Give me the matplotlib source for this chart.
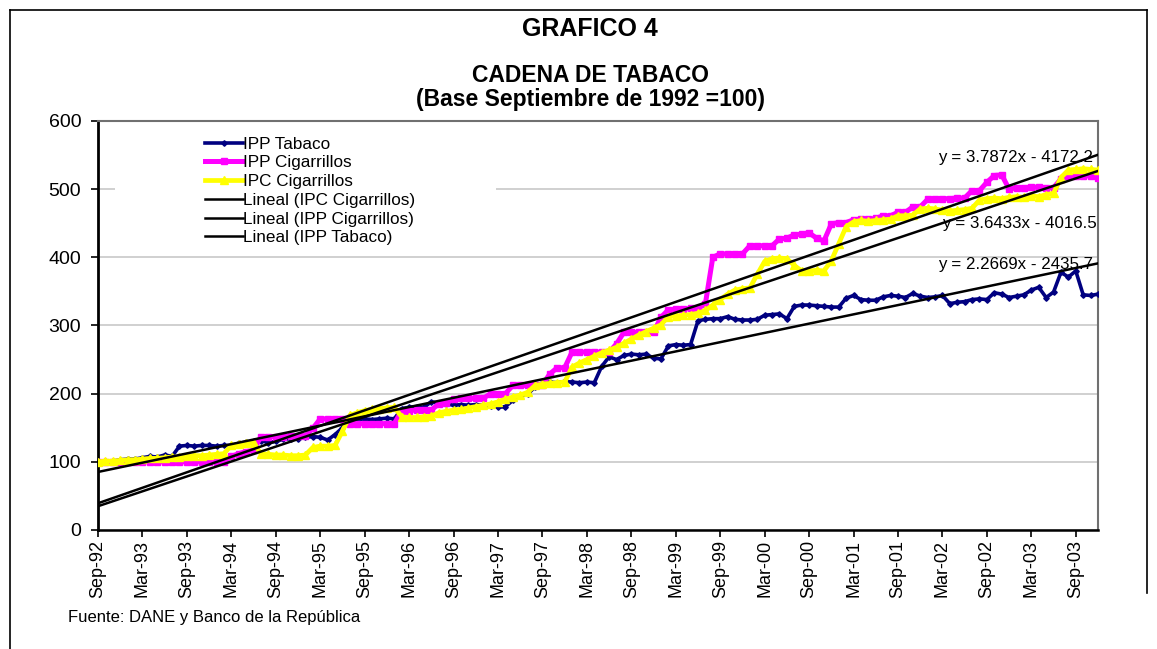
# Grafico 4 - cadena de tabaco, indices base Sep-92 = 100
import numpy as np
import matplotlib.pyplot as plt
from matplotlib.lines import Line2D
from matplotlib.patches import Rectangle

plt.rcParams['font.family'] = ['Liberation Sans', 'DejaVu Sans']

tick_labels = ["Sep-92", "Mar-93", "Sep-93", "Mar-94", "Sep-94", "Mar-95",
               "Sep-95", "Mar-96", "Sep-96", "Mar-97", "Sep-97", "Mar-98",
               "Sep-98", "Mar-99", "Sep-99", "Mar-00", "Sep-00", "Mar-01",
               "Sep-01", "Mar-02", "Sep-02", "Mar-03", "Sep-03"]

# monthly values Sep-92 .. Dec-03
ipp_tabaco = [100, 101, 101, 103, 104, 104, 106, 108, 107, 110, 108,
              123, 124, 123, 124, 124, 123, 124, 124,
              127, 129, 130,
              131, 128, 130, 133, 134, 134, 136,
              137, 136, 132, 140, 150,
              160, 162, 163, 162, 163, 164, 163,
              178, 180, 181, 180, 188, 186,
              185, 183, 184, 183, 184, 183, 182,
              180, 181, 190, 196, 199, 210,
              215, 217, 216, 218, 217, 216, 217, 216,
              240, 254, 250, 256, 258, 257, 258, 252, 251,
              270, 272, 271, 272, 307,
              309, 310, 310, 313, 309, 308, 308, 309, 315, 316, 317, 310,
              328, 330, 330, 329, 328, 327, 327,
              340, 344, 338, 337, 337, 342, 344, 343, 341, 347, 343,
              341, 342, 344, 332, 334, 335, 338, 339, 338, 348, 346,
              341, 343, 345, 352, 356, 341, 349, 378, 371, 380,
              345, 344, 346]

ipp_cigarrillos = [100] * 18 + [
              108, 112, 115, 117,
              137, 137, 137, 137, 138, 138, 138,
              149, 163, 163, 163, 163,
              156, 156, 156, 156, 156, 156, 156,
              175, 175, 176, 176, 176, 185, 186,
              192, 193, 193, 193, 193, 200, 200, 200,
              212, 212, 212, 213, 213, 229, 238, 238,
              261, 261, 261, 261, 261, 261, 273,
              290, 290, 290, 290, 290, 312,
              323, 324, 324, 325, 325, 332, 400,
              405, 405, 405, 405, 417, 417, 417, 417,
              427, 428, 433, 434, 436, 428, 424,
              449, 451, 451, 455, 456, 456, 457,
              461, 461, 466, 466, 474, 474,
              485, 486, 486, 486, 487, 487, 498, 498, 510, 520, 521,
              500, 502, 502, 503, 503, 502, 502,
              515, 520, 520, 520, 519, 517]

ipc_cigarrillos = [100, 101, 101, 102, 103, 103, 104, 105, 105, 106, 107, 107,
              108, 109, 109, 110, 111, 112,
              124, 126, 127, 127,
              112, 111, 110, 110, 109, 109, 110,
              121, 123, 123, 124, 145,
              168, 172, 175, 177, 178, 179, 180,
              166, 165, 165, 166, 167,
              172, 174, 176, 177, 179, 181, 183,
              185, 188, 192, 195, 198, 202,
              212, 214, 215, 216, 217,
              239, 245, 250, 255, 260, 264,
              268, 274, 280, 286, 291, 296, 301,
              313, 314, 315, 316, 318,
              322, 330, 338, 346, 352, 354, 355, 375, 394,
              398, 399, 398, 388, 380, 380, 381, 380,
              395, 420, 445, 452,
              454, 453, 454, 455, 456, 461, 461, 462,
              471, 472, 471, 469, 468, 469, 470, 472,
              484, 486, 487, 486,
              488, 489, 488, 490, 489, 492, 494, 517,
              528, 529, 530, 529, 528]

# excel linear trendlines, x counted in months (Sep-92 -> 1112)
trend_names = ["Lineal (IPC Cigarrillos)", "Lineal (IPP Cigarrillos)",
               "Lineal (IPP Tabaco)"]
trend_slope = [3.7872, 3.6433, 2.2669]
trend_icept = [-4172.2, -4016.5, -2435.7]
trend_x0 = 1112


def main():
    months = np.arange(len(ipp_tabaco))

    fig = plt.figure(figsize=(11.57, 6.49), dpi=100)
    ax = fig.add_axes([0.0847, 0.1834, 0.8643, 0.6302])

    ax.plot(months, ipp_tabaco, color='#000080', lw=2.6, marker='D', ms=2.8,
            label='IPP Tabaco', zorder=3)
    ax.plot(months, ipp_cigarrillos, color='#FF00FF', lw=3.6, marker='s', ms=3.8,
            label='IPP Cigarrillos', zorder=3)
    ax.plot(months, ipc_cigarrillos, color='#FFFF00', lw=3.4, marker='^', ms=5.5,
            label='IPC Cigarrillos', zorder=3)

    for name, a, b in zip(trend_names, trend_slope, trend_icept):
        ax.plot(months, a * (months + trend_x0) + b, color='black', lw=1.8,
                label=name, zorder=4)

    # equation labels
    ax.text(134.3, 547, f"y = {trend_slope[0]}x - {abs(trend_icept[0])}",
            ha='right', va='center', fontsize=12.2, zorder=5)
    ax.text(134.8, 449, f"y = {trend_slope[1]}x - {abs(trend_icept[1])}",
            ha='right', va='center', fontsize=12.2, zorder=5)
    ax.text(134.3, 389, f"y = {trend_slope[2]}x - {abs(trend_icept[2])}",
            ha='right', va='center', fontsize=12.2, zorder=5)

    ax.set_xlim(0, len(months) - 1)
    ax.set_ylim(0, 600)
    ax.set_yticks(np.arange(0, 601, 100))
    ax.set_xticks(np.arange(0, len(months), 6)[:len(tick_labels)])
    ax.set_xticklabels(tick_labels, rotation=90, fontsize=13)
    ax.tick_params(axis='y', labelsize=14, length=5, width=1.2, pad=7)
    ax.tick_params(axis='x', length=5, width=1.2, pad=2)

    ax.set_axisbelow(True)
    ax.grid(axis='y', color='#c8c8c8', lw=1.2)
    ax.spines['left'].set_linewidth(2)
    ax.spines['bottom'].set_linewidth(1.8)
    for s in ['top', 'right']:
        ax.spines[s].set_color('#707070')
        ax.spines[s].set_linewidth(1.5)

    # white legend area (hides the gridline behind it)
    ax.add_patch(Rectangle((0.017, 0.685), 0.381, 0.305, transform=ax.transAxes,
                           facecolor='white', edgecolor='none', zorder=1))
    ax.legend(loc='upper left', bbox_to_anchor=(0.107, 0.962), frameon=False,
              fontsize=12.3, borderaxespad=0, borderpad=0, labelspacing=0.22,
              handlelength=2.2, handletextpad=0.05)

    fig.text(0.51, 0.955, "GRAFICO 4", ha='center', va='center',
             fontsize=18, fontweight='bold')
    fig.text(0.51, 0.884, "CADENA DE TABACO", ha='center', va='center',
             fontsize=16.5, fontweight='bold')
    fig.text(0.51, 0.847, "(Base Septiembre de 1992 =100)", ha='center',
             va='center', fontsize=16.5, fontweight='bold')
    fig.text(0.0588, 0.049, "Fuente: DANE y Banco de la República",
             ha='left', va='center', fontsize=12)

    # outer frame
    fig.add_artist(Line2D([0.0086, 0.0086], [0, 0.9846], color='black', lw=1.2))
    fig.add_artist(Line2D([0.0086, 0.9914], [0.9846, 0.9846], color='black', lw=1.2))
    fig.add_artist(Line2D([0.9914, 0.9914], [0.9846, 0.086], color='black', lw=1.2))

    fig.savefig('out.png', dpi=100)


if __name__ == "__main__":
    main()
